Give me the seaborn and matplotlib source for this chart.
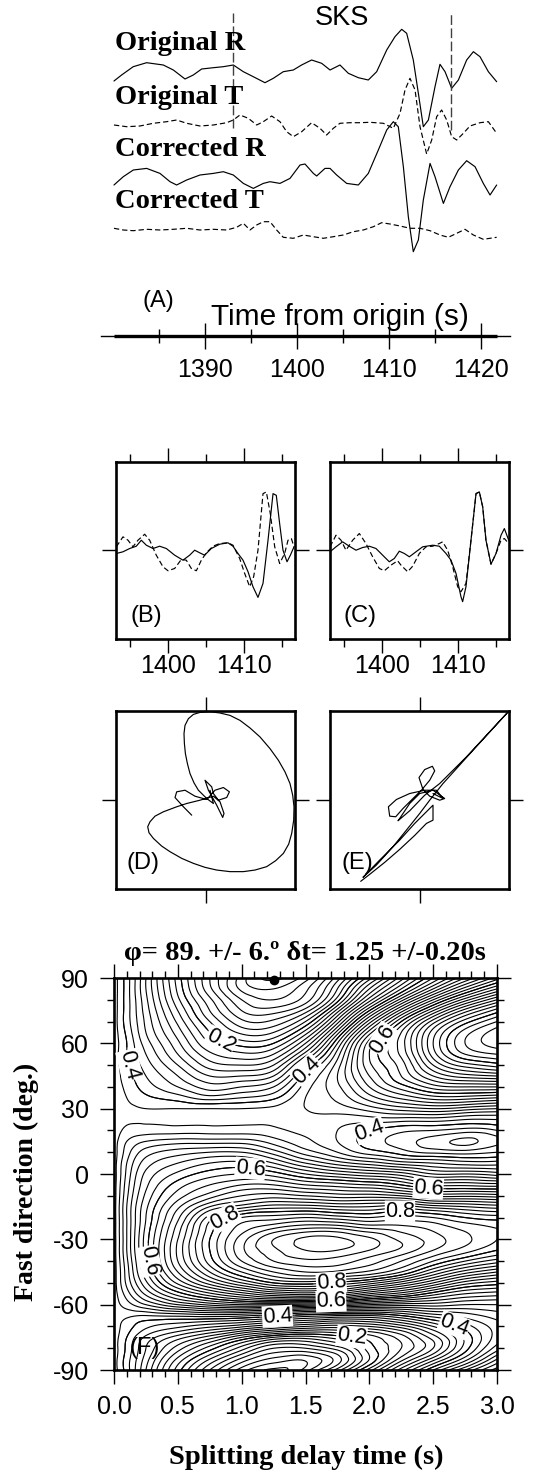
import numpy as np
import matplotlib
matplotlib.use("Agg")
import matplotlib.pyplot as plt
from matplotlib.ticker import MultipleLocator, FixedLocator
from matplotlib.tri import Triangulation, UniformTriRefiner
import seaborn as sns

# ---------------- data: panel A seismograms (time s, amplitude) ----------------
ORIG_R_T = [1380.11, 1380.94, 1382.2, 1383.66, 1385.47, 1386.56, 1387.83, 1388.73, 1389.64, 1390.91,
            1391.99, 1393.08, 1394.17, 1395.25, 1396.52, 1397.43, 1398.51, 1399.6, 1400.5, 1401.59,
            1402.68, 1403.59, 1404.67, 1405.58, 1406.67, 1407.75, 1408.66, 1409.75, 1410.65, 1411.38,
            1411.92, 1412.64, 1413.19, 1413.73, 1414.28, 1415.0, 1415.54, 1416.09, 1416.81, 1417.54,
            1418.44, 1419.17, 1419.89, 1420.8, 1421.7]
ORIG_R_A = [-1.1, -0.5, 0.33, 0.73, 0.5, 0.0, -0.9, -0.5, 0.1, 0.23,
            0.33, 0.5, -0.17, -0.67, -1.27, -0.83, -0.17, 0.0, 0.5, 1.0,
            0.67, 0.0, 0.5, -0.33, -0.77, -1.0, -0.17, 2.0, 3.33, 4.07,
            3.67, 1.0, -2.33, -5.67, -5.0, -1.67, 0.57, -0.17, -1.83, -1.0,
            1.0, 1.83, 1.33, -0.17, -1.17]

ORIG_T_T = [1380.11, 1381.49, 1382.93, 1384.38, 1385.83, 1386.92, 1388.01, 1389.46, 1390.91, 1392.36,
            1393.08, 1393.8, 1394.71, 1395.62, 1396.34, 1397.25, 1398.15, 1398.88, 1399.6, 1400.51,
            1401.59, 1402.5, 1403.22, 1403.95, 1404.67, 1405.76, 1406.85, 1407.93, 1409.38, 1410.47,
            1411.2, 1411.74, 1412.28, 1412.83, 1413.37, 1414.09, 1414.64, 1415.18, 1415.72, 1416.27,
            1416.81, 1417.36, 1418.08, 1418.8, 1419.89, 1420.8, 1421.7]
ORIG_T_A = [0.0, -0.17, -0.1, 0.17, 0.33, 0.5, 0.17, -0.1, 0.0, 0.23,
            0.5, 1.0, 0.67, 0.0, 0.33, 0.9, 0.33, -0.67, -1.17, -0.67,
            0.23, -0.33, -1.0, -0.33, 0.17, 0.23, 0.23, 0.27, 0.17, -0.33,
            1.17, 3.5, 4.67, 3.5, -0.17, -2.9, -1.5, 0.83, 1.5, 0.5,
            -1.17, -1.5, -0.83, -0.1, 0.23, 0.33, -0.83]

CORR_R_T = [1380.11, 1381.12, 1382.21, 1383.66, 1385.11, 1386.2, 1386.92, 1388.01, 1389.46, 1390.91,
            1391.99, 1393.08, 1394.17, 1395.25, 1396.34, 1397.07, 1398.15, 1399.24, 1400.33, 1400.87,
            1401.78, 1402.14, 1403.04, 1403.59, 1404.31, 1405.4, 1406.67, 1407.75, 1408.84, 1409.75,
            1410.47, 1411.01, 1411.56, 1412.1, 1412.64, 1413.19, 1413.73, 1414.46, 1415.0, 1415.91,
            1416.63, 1417.54, 1418.44, 1419.35, 1420.25, 1420.98, 1421.7]
CORR_R_A = [-0.83, 0.0, 0.67, 0.83, 0.33, -0.5, -0.83, -0.33, 0.17, 0.33,
            0.5, 0.17, -0.67, -1.17, -0.67, -0.5, -0.67, -0.17, 1.17, 1.27,
            0.33, 0.07, 0.83, 0.83, 0.17, -0.67, -0.83, 0.33, 2.67, 4.67,
            5.5, 5.0, 1.0, -4.0, -7.5, -6.33, -2.33, 1.33, 0.0, -2.67,
            -1.0, 0.67, 1.6, 1.0, -0.67, -1.83, -0.83]

CORR_T_T = [1380.11, 1381.12, 1382.21, 1383.66, 1385.11, 1386.56, 1388.01, 1389.46, 1390.91, 1392.36,
            1393.44, 1394.17, 1394.89, 1395.62, 1396.34, 1397.07, 1397.79, 1398.51, 1399.6, 1400.69,
            1401.78, 1402.86, 1403.95, 1405.04, 1406.12, 1407.21, 1408.3, 1409.2, 1410.11, 1411.2,
            1412.28, 1413.37, 1414.46, 1415.54, 1416.45, 1417.36, 1418.26, 1419.17, 1420.25, 1420.98,
            1421.7]
CORR_T_A = [0.17, 0.0, -0.07, 0.07, 0.0, 0.07, 0.17, 0.0, 0.07, 0.0,
            0.27, 0.67, 0.0, 0.5, 0.83, 0.83, 0.0, -0.73, -0.83, -0.5,
            -0.67, -0.83, -0.67, -0.5, -0.17, 0.0, 0.33, 0.73, 0.6, 0.4,
            0.17, 0.17, -0.07, -0.5, -0.73, -0.33, 0.07, -0.5, -0.93, -0.83,
            -0.73]

TRACE_NAMES = ["Original R", "Original T", "Corrected R", "Corrected T"]
WINDOW = [1393.08, 1416.72]
TIME_TICKS = [1390, 1400, 1410, 1420]

# ---------------- panels B / C: fast & slow components ----------------
B_SOLID_T = [1393.2, 1394.08, 1394.96, 1395.83, 1396.49, 1397.15, 1398.03, 1398.9, 1399.78, 1400.88,
             1401.97, 1402.85, 1403.51, 1404.17, 1404.82, 1405.7, 1406.8, 1407.89, 1408.55, 1409.21,
             1409.87, 1410.53, 1411.18, 1411.84, 1412.5, 1413.16, 1413.82, 1414.25, 1414.69, 1415.13,
             1415.66, 1416.1, 1416.58]
B_SOLID_A = [-0.4, -0.23, 0.1, 0.33, 0.93, 0.43, 0.1, 0.33, 0.1, -0.57,
             -1.07, -0.57, -0.07, -0.33, -0.57, 0.1, 0.53, 0.67, 0.33, -0.4,
             -1.07, -2.23, -3.73, -4.8, -3.4, 0.93, 5.6, 5.43, 2.6, -0.07,
             -1.23, -0.57, 0.27]
B_DASH_T = [1393.2, 1394.08, 1394.74, 1395.39, 1396.05, 1396.93, 1397.59, 1398.46, 1399.34, 1400.0,
            1400.88, 1401.75, 1402.41, 1403.07, 1403.73, 1404.39, 1405.04, 1405.92, 1406.8, 1407.89,
            1408.55, 1409.43, 1410.09, 1410.75, 1411.27, 1411.84, 1412.5, 1412.94, 1413.46, 1414.04,
            1414.69, 1415.35, 1415.79, 1416.23, 1416.58]
B_DASH_A = [0.27, 1.27, 0.93, 0.27, 0.93, 1.53, 0.93, -0.57, -1.73, -2.13,
            -1.9, -1.0, -1.07, -1.9, -2.13, -1.07, -0.33, 0.33, 0.6, 0.67,
            0.43, -0.9, -2.4, -3.73, -2.73, -0.07, 5.6, 5.77, 3.6, 0.27,
            -1.4, -0.4, 0.93, 1.1, 0.27]
C_SOLID_T = [1393.16, 1393.95, 1394.82, 1395.7, 1396.58, 1397.46, 1398.33, 1399.21, 1400.09, 1400.96,
             1401.62, 1402.28, 1402.94, 1403.6, 1404.47, 1405.35, 1406.67, 1407.54, 1408.42, 1409.08,
             1409.74, 1410.39, 1410.61, 1411.05, 1411.71, 1412.37, 1412.81, 1413.25, 1413.68, 1414.34,
             1415.0, 1415.66, 1416.1, 1416.67]
C_SOLID_A = [-0.23, 0.27, 0.77, 0.33, -0.07, 0.2, 0.33, 0.1, -0.57, -1.23,
             -0.9, -0.17, -0.4, -0.73, -0.23, 0.27, 0.43, 0.33, -0.4, -1.07,
             -2.4, -4.73, -5.23, -3.73, 0.93, 5.6, 5.77, 4.27, 0.93, -1.47,
             -0.4, 1.43, 2.1, 0.93]
C_DASH_T = [1393.16, 1393.95, 1394.61, 1395.26, 1396.14, 1397.02, 1397.89, 1398.77, 1399.65, 1400.31,
            1401.18, 1402.06, 1402.5, 1403.38, 1404.04, 1404.91, 1405.79, 1406.67, 1407.54, 1407.98,
            1408.64, 1409.3, 1409.96, 1410.39, 1411.05, 1411.71, 1412.37, 1412.81, 1413.25, 1413.68,
            1414.34, 1415.0, 1415.66, 1416.1, 1416.67]
C_DASH_A = [0.27, 1.43, 0.93, -0.07, 0.93, 1.6, 0.6, -0.73, -1.9, -2.13,
            -1.57, -1.13, -1.57, -2.23, -1.67, -0.4, 0.27, 0.33, 0.6, 0.77,
            -0.07, -1.73, -3.73, -4.23, -3.4, 0.93, 5.6, 5.77, 4.27, 0.93,
            -1.47, -0.4, 0.93, 1.1, 0.6]
BC_TICKS = [1400, 1410]

# ---------------- panels D / E: particle motion ----------------
D_X = [-1.4, -2.23, -3.07, -2.9, -2.07, -1.07, 0.1, 0.93, 1.77, 2.37, 2.1, 1.27, 0.77, 0.6, -0.07,
       0.27, 1.1, 1.7, 1.83, 1.43, 0.77, -0.57, -1.9, -2.9, -4.23, -5.07, -5.57, -5.8, -5.67, -5.23,
       -4.4, -3.57, -2.4, -1.23, -0.07, 1.1, 2.43, 3.77, 4.93, 6.1, 7.0, 7.77, 8.3, 8.6, 8.8,
       8.83, 8.7, 8.43, 7.93, 7.27, 6.43, 5.43, 4.43, 3.43, 2.43, 1.43, 0.43, -0.57, -1.23, -1.73,
       -2.07, -2.17, -2.13, -2.03, -1.83, -1.57, -1.17, -0.73, 0.1, 0.77, 0.43]
D_Y = [-1.57, -0.73, 0.2, 0.77, 0.93, 0.33, 0.0, 0.93, 1.2, 0.77, 0.2, -0.07, 0.6, 1.27, 1.93,
       0.93, -0.57, -1.8, -1.4, -0.23, 0.33, -0.07, -0.4, -0.73, -1.23, -1.67, -2.23, -2.73, -3.33, -3.9,
       -4.67, -5.23, -5.9, -6.4, -6.8, -7.07, -7.23, -7.23, -7.07, -6.73, -6.13, -5.4, -4.47, -3.4, -2.07,
       -0.73, 0.43, 1.6, 2.77, 3.93, 5.1, 6.27, 7.17, 7.93, 8.43, 8.67, 8.8, 8.73, 8.53, 8.1,
       7.43, 6.6, 5.6, 4.6, 3.6, 2.6, 1.67, 0.93, 0.1, -0.4, 0.93]
E_X = [1.33, 2.33, 1.67, 0.5, -1.0, -2.33, -3.13, -3.0, -2.4, -1.67, -0.67, 0.17, 1.0, 1.5, 1.27,
       0.5, -0.07, 0.33, 1.0, 2.0, 2.5, 1.33, 0.0, -1.0, -2.0, -2.17, -1.0, 0.5, 2.0, 4.67,
       8.83, 5.33, 2.33, 1.0, 0.0, -1.33, -2.67, -4.33, -5.67, -4.0, -2.0, -0.5, 0.83, 1.33, 1.33,
       0.67, -0.5, -2.0, -3.5, -5.0, -5.9]
E_Y = [0.6, 0.1, 0.93, 0.93, 0.6, 0.0, -0.73, -1.67, -1.73, -0.9, 0.1, 0.93, 1.93, 2.87, 3.33,
       3.0, 2.2, 1.0, 0.33, -0.07, 0.1, 0.93, 0.6, -0.4, -1.9, -2.13, -1.13, 0.43, 1.6, 4.27,
       8.77, 4.93, 1.6, -0.07, -1.4, -3.07, -4.73, -6.57, -7.8, -6.07, -4.07, -2.4, -1.07, -0.57, -2.07,
       -2.4, -3.6, -5.0, -6.3, -7.5, -8.2]

# ---------------- panel F: normalized transverse energy, read on a grid ----------------
DT_GRID = [0.0, 0.1, 0.25, 0.5, 0.75, 1.0, 1.25, 1.5, 1.75, 2.0, 2.25, 2.5, 2.75, 3.0]
PHI_GRID = list(range(-90, 91, 5))
ENERGY = [
    [.43, .39, .32, .21, .12, .05, .015, .05, .13, .23, .33, .42, .50, .57],     # -90
    [.43, .39, .33, .235, .16, .095, .055, .045, .09, .18, .27, .35, .43, .52],  # -85
    [.43, .395, .34, .27, .21, .15, .10, .10, .13, .19, .24, .30, .39, .47],     # -80
    [.43, .40, .355, .31, .27, .22, .18, .17, .19, .21, .25, .31, .385, .45],    # -75
    [.43, .41, .385, .365, .345, .325, .30, .28, .27, .28, .31, .36, .41, .45],  # -70
    [.43, .425, .42, .425, .43, .425, .41, .39, .38, .38, .40, .43, .45, .47],   # -65
    [.43, .45, .48, .52, .545, .56, .56, .55, .54, .52, .51, .51, .50, .50],     # -60
    [.43, .47, .525, .59, .635, .67, .70, .71, .70, .66, .63, .59, .56, .55],    # -55
    [.43, .485, .555, .645, .71, .76, .80, .81, .795, .77, .73, .68, .63, .61],  # -50
    [.43, .49, .575, .68, .76, .82, .86, .88, .875, .855, .82, .76, .71, .68],   # -45
    [.43, .495, .585, .70, .79, .86, .90, .915, .91, .89, .86, .82, .78, .75],   # -40
    [.43, .50, .59, .705, .80, .875, .915, .94, .94, .92, .895, .86, .83, .80],  # -35
    [.43, .50, .59, .70, .80, .87, .92, .945, .945, .925, .895, .87, .845, .82], # -30
    [.43, .50, .585, .69, .79, .85, .88, .90, .90, .88, .87, .855, .835, .82],   # -25
    [.43, .50, .58, .675, .77, .82, .83, .84, .83, .82, .83, .82, .80, .79],     # -20
    [.43, .50, .575, .655, .72, .75, .77, .77, .76, .76, .77, .75, .74, .73],    # -15
    [.43, .495, .565, .63, .67, .70, .71, .70, .69, .69, .68, .655, .655, .65],  # -10
    [.43, .49, .555, .61, .64, .66, .66, .64, .63, .62, .60, .575, .575, .57],   # -5
    [.43, .485, .545, .585, .61, .62, .61, .58, .56, .545, .53, .50, .50, .49],  # 0
    [.43, .48, .53, .56, .58, .585, .56, .52, .49, .47, .45, .44, .43, .43],     # 5
    [.43, .47, .51, .53, .54, .54, .51, .47, .44, .41, .39, .375, .37, .38],     # 10
    [.43, .46, .48, .49, .49, .49, .47, .445, .42, .39, .37, .35, .335, .355],   # 15
    [.43, .445, .45, .45, .45, .45, .445, .435, .42, .40, .385, .38, .37, .38],  # 20
    [.43, .435, .435, .435, .435, .435, .435, .435, .43, .43, .43, .43, .42, .42],  # 25
    [.43, .425, .42, .42, .42, .42, .425, .44, .45, .47, .49, .50, .49, .48],    # 30
    [.43, .42, .405, .39, .37, .38, .395, .44, .465, .51, .545, .57, .57, .56],  # 35
    [.43, .415, .39, .36, .33, .34, .36, .43, .475, .54, .59, .63, .64, .64],    # 40
    [.43, .41, .38, .34, .30, .30, .32, .41, .48, .56, .62, .68, .71, .72],      # 45
    [.43, .405, .37, .32, .27, .26, .28, .38, .47, .575, .63, .72, .77, .79],    # 50
    [.43, .40, .36, .30, .245, .225, .24, .33, .45, .58, .645, .75, .82, .84],   # 55
    [.43, .40, .35, .285, .22, .19, .20, .28, .42, .57, .65, .76, .84, .87],     # 60
    [.43, .395, .34, .27, .20, .155, .16, .23, .37, .53, .64, .75, .83, .87],    # 65
    [.43, .39, .335, .255, .18, .125, .125, .18, .31, .47, .60, .71, .79, .84],  # 70
    [.43, .39, .33, .24, .16, .10, .09, .13, .25, .40, .53, .64, .73, .79],      # 75
    [.43, .39, .325, .225, .145, .08, .06, .09, .19, .33, .45, .56, .65, .72],   # 80
    [.43, .39, .32, .215, .125, .055, .04, .075, .16, .28, .38, .48, .57, .64],  # 85
    [.43, .39, .32, .21, .12, .05, .015, .05, .13, .23, .33, .42, .50, .57],     # 90
]
LEVELS = np.round(np.arange(1, 50) * 0.02, 2)
LABEL_LEVELS = [0.8, 0.2, 0.4, 0.6]
BEST_DT, BEST_PHI = 1.25, 89
TITLE_F = "\u03c6= 89. +/- 6.\u00ba \u03b4t= 1.25 +/-0.20s"

# ---------------- style & layout helpers (pixel geometry) ----------------
W, H = 535, 1475
sns.set_theme(style="white")
plt.rcParams["font.family"] = ["Liberation Sans", "DejaVu Sans"]
plt.rcParams["axes.unicode_minus"] = False
for key in ["axes.edgecolor", "text.color", "xtick.color", "ytick.color", "axes.labelcolor"]:
    plt.rcParams[key] = "black"
SERIF = ["Liberation Serif", "DejaVu Serif"]

fig = plt.figure(figsize=(W / 100, H / 100), dpi=100)
fig.patch.set_facecolor("white")


def add_ax(l, t, r, b):
    return fig.add_axes([l / W, 1 - b / H, (r - l) / W, (b - t) / H])


def ftext(x, y, s, **kw):
    fig.text(x / W, 1 - y / H, s, **kw)


LW = 0.85
DASH = (0, (4.5, 2.5))


def trace(ax, x, y, dashed=False):
    sns.lineplot(x=np.asarray(x), y=np.asarray(y), ax=ax, color="black", linewidth=LW,
                 estimator=None, sort=False, linestyle=DASH if dashed else "-")


# ---------------- Panel A ----------------
axA = add_ax(101, 0, 510, 260)
XL_A = (1378.7, 1423.15)
BASES = [-7.0, -12.5, -17.67, -23.0]
for (t, a, dashed), base in zip([(ORIG_R_T, ORIG_R_A, False), (ORIG_T_T, ORIG_T_A, True),
                                  (CORR_R_T, CORR_R_A, False), (CORR_T_T, CORR_T_A, True)], BASES):
    trace(axA, t, np.asarray(a) + base, dashed)
axA.vlines(WINDOW, [-12.8, -13.0], -1.3, colors="0.25", linestyles=[(0, (7, 2.5))], linewidth=1.0)
axA.set_xlim(*XL_A)
axA.set_ylim(-26, 0)
axA.axis("off")

for name, y in zip(TRACE_NAMES, [43, 97, 150, 202]):
    ftext(115, y, name, family=SERIF, weight="bold", size=20.5, ha="left", va="center")
ftext(342, 18, "SKS", size=19.5, ha="center", va="center")

axT = add_ax(101, 296, 510, 336)
axT.set_xlim(*XL_A)
axT.set_ylim(0, 1)
axT.patch.set_alpha(0)
for s in ["top", "left", "right"]:
    axT.spines[s].set_visible(False)
axT.spines["bottom"].set_linewidth(1.0)
axT.plot([ORIG_R_T[0], ORIG_R_T[-1]], [0, 0], color="black", lw=2.4, clip_on=False,
         solid_capstyle="butt")
axT.xaxis.set_major_locator(FixedLocator(TIME_TICKS))
axT.xaxis.set_minor_locator(FixedLocator([v + 5 for v in TIME_TICKS[:-1]] + [TIME_TICKS[0] - 5]))
axT.tick_params(axis="x", which="major", direction="inout", length=19, width=1, labelsize=18, pad=6,
                bottom=True)
axT.tick_params(axis="x", which="minor", direction="inout", length=10, width=1, bottom=True)
axT.set_yticks([])
ftext(158, 301, "(A)", size=17, ha="center", va="center")
ftext(340, 317, "Time from origin (s)", size=21.5, ha="center", va="center")


# ---------------- Panels B, C ----------------
def wave_box(l, r, t, b, solid, dashed, letter):
    ax = add_ax(l, t, r, b)
    trace(ax, solid[0], solid[1])
    trace(ax, dashed[0], dashed[1], True)
    ax.set_xlim(1393.16, 1416.71)
    ax.set_ylim(-8.97, 8.77)
    ax.xaxis.set_major_locator(FixedLocator(BC_TICKS))
    ax.xaxis.set_minor_locator(FixedLocator([1395, 1405, 1415]))
    ax.set_yticks([0])
    ax.set_yticklabels([])
    ax.tick_params(which="major", direction="out", length=10, width=1, top=True, right=True,
                   left=True, bottom=True, labelsize=18, pad=1)
    ax.tick_params(which="minor", direction="out", length=5.5, width=1, top=True, bottom=True)
    for s in ax.spines.values():
        s.set_linewidth(1.9)
    ax.set_xlabel("")
    ax.set_ylabel("")
    ftext(l + 30, b - 23, "(" + letter + ")", size=17, ha="center", va="center")
    return ax


wave_box(116, 295, 462, 639, (B_SOLID_T, B_SOLID_A), (B_DASH_T, B_DASH_A), "B")
wave_box(330, 509, 462, 639, (C_SOLID_T, C_SOLID_A), (C_DASH_T, C_DASH_A), "C")


# ---------------- Panels D, E ----------------
def pm_box(l, r, t, b, x, y, letter):
    ax = add_ax(l, t, r, b)
    trace(ax, x, y)
    ax.set_xlim(-8.97, 8.93)
    ax.set_ylim(-8.97, 8.87)
    ax.set_xticks([0])
    ax.set_yticks([0])
    ax.set_xticklabels([])
    ax.set_yticklabels([])
    ax.tick_params(direction="out", length=10, width=1, top=True, right=True, left=True, bottom=True)
    for s in ax.spines.values():
        s.set_linewidth(1.9)
    ax.set_xlabel("")
    ax.set_ylabel("")
    ftext(l + 27, b - 26, "(" + letter + ")", size=17, ha="center", va="center")
    return ax


pm_box(116, 295, 711, 889, D_X, D_Y, "D")
pm_box(330, 509, 711, 889, E_X, E_Y, "E")

# ---------------- Panel F ----------------
axF = add_ax(114, 978, 497, 1370)
E_ARR = np.asarray(ENERGY)
nr, nc = E_ARR.shape
gx, gy = np.meshgrid(DT_GRID, PHI_GRID)
idx = np.arange(nr * nc).reshape(nr, nc)
tris = np.concatenate([
    np.stack([idx[:-1, :-1].ravel(), idx[:-1, 1:].ravel(), idx[1:, 1:].ravel()], axis=1),
    np.stack([idx[:-1, :-1].ravel(), idx[1:, 1:].ravel(), idx[1:, :-1].ravel()], axis=1)])
YS = 60.0  # isotropic scaling for the library's smooth refinement
tri = Triangulation(gx.ravel(), gy.ravel() / YS, tris)
tri_f, e_f = UniformTriRefiner(tri).refine_field(E_ARR.ravel(), subdiv=3)
tri_f = Triangulation(tri_f.x, tri_f.y * YS, tri_f.triangles)

axF.tricontour(tri_f, e_f, levels=LEVELS, colors="black", linewidths=0.8)
LABEL_SPOTS = {
    0.2: [(0.83, 60.6), (1.86, -75)],
    0.4: [(0.12, 50), (1.52, 47), (2.0, 21), (1.28, -65.6), (2.68, -67)],
    0.6: [(2.15, 60), (1.07, 4), (2.46, -7.3), (0.33, -39.5), (1.7, -58.5)],
    0.8: [(0.85, -18), (2.24, -16.5), (1.7, -48.5)],
}
for k, lev in enumerate(LABEL_LEVELS):
    csl = axF.tricontour(tri_f, e_f, levels=[lev], colors="black", linewidths=0.8)
    csl.clabel(manual=LABEL_SPOTS[lev], inline=True, fmt="%.1f", fontsize=15.5, inline_spacing=3)
    for t in csl.labelTexts:
        t.set_bbox(dict(facecolor="white", edgecolor="none", pad=0.2))
        t.set_zorder(4 + 0.1 * k)
axF.plot([BEST_DT], [BEST_PHI], "o", color="black", ms=6, clip_on=False, zorder=5)
axF.set_xlim(0, 3)
axF.set_ylim(-90, 90)
axF.xaxis.set_major_locator(MultipleLocator(0.5))
axF.xaxis.set_minor_locator(MultipleLocator(0.1))
axF.yaxis.set_major_locator(MultipleLocator(30))
axF.yaxis.set_minor_locator(MultipleLocator(10))
axF.tick_params(which="major", direction="out", length=10, width=1, top=True, right=True,
                left=True, bottom=True, labelsize=18, pad=8)
axF.tick_params(which="minor", direction="out", length=5, width=1, top=True, right=True,
                left=True, bottom=True)
for s in axF.spines.values():
    s.set_linewidth(1.9)
ftext(305, 953, TITLE_F, family=SERIF, weight="bold", size=20.5, ha="center", va="center")
ftext(306, 1457, "Splitting delay time (s)", family=SERIF, weight="bold", size=20.5,
      ha="center", va="center")
ftext(26, 1182, "Fast direction (deg.)", family=SERIF, weight="bold", size=20,
      ha="center", va="center", rotation=90)
ftext(145, 1348, "(F)", size=17, ha="center", va="center")

fig.savefig("out.png", dpi=100)
